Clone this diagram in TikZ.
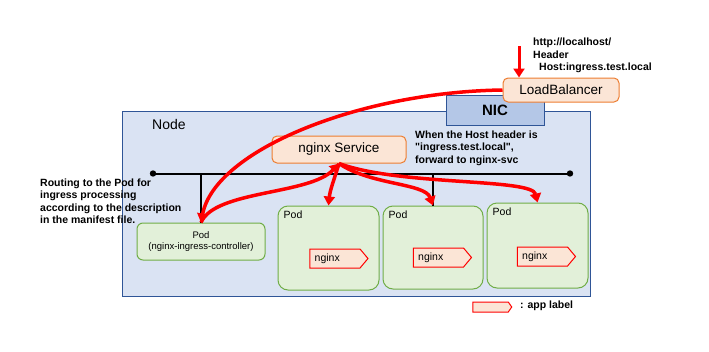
\documentclass[tikz,border=0pt]{standalone}
\usepackage{fontspec}
\setmainfont{Liberation Sans}[Ligatures=TeXOff]
\usetikzlibrary{arrows.meta}
\usetikzlibrary{shapes.symbols}
\usetikzlibrary{positioning}

\definecolor{nodefill}{HTML}{DAE3F3}
\definecolor{nodeline}{HTML}{2F5597}
\definecolor{nicfill}{HTML}{B4C7E7}
\definecolor{svcfill}{HTML}{FBE5D6}
\definecolor{svcline}{HTML}{ED7D31}
\definecolor{podfill}{HTML}{E2F0D9}
\definecolor{podline}{HTML}{70AD47}

\begin{document}
\begin{tikzpicture}[x=1pt, y=-1pt,
      host/.style ={rectangle, draw=nodeline, fill=nodefill, line width=1pt},
      nic/.style ={rectangle, draw=nodeline, fill=nicfill, line width=1pt, minimum width=98pt, minimum height=30pt, font=\fontsize{15}{18}\selectfont\bfseries},
      service/.style ={rectangle, rounded corners=5pt, draw=svcline, fill=svcfill, line width=1pt, font=\fontsize{13.5}{16}\selectfont},
      pod/.style ={rectangle, rounded corners=10pt, draw=podline, fill=podfill, line width=1pt},
      podtitle/.style ={anchor=north west, inner sep=0pt, font=\fontsize{10.5}{12}\selectfont},
      applabel/.style ={signal, signal to=east, signal pointer angle=100, draw=red, fill=svcfill, line width=1pt, inner sep=0pt, minimum width=58pt, minimum height=19pt},
      tagtext/.style ={anchor=west, inner sep=0pt, font=\fontsize{10.5}{12}\selectfont},
      note/.style ={anchor=north west, inner sep=0pt, align=left, font=\fontsize{10.5}{12.4}\selectfont\bfseries},
      route/.style ={draw=red, line width=3.5pt, -{Triangle[length=9pt,width=11pt]}},
      bus/.style ={line width=2pt}
    ]
    \useasboundingbox (0,0) rectangle (709,351);

    % the node with its network card and the load balancer in front
    \node [host, minimum width=468pt, minimum height=185pt] (node) at (356,203.5) {} ;
    \node [anchor=west, inner sep=0pt, font=\fontsize{14}{16}\selectfont] (nodename) at (152,124) {Node} ;
    \node [nic] (nic) at (495,110) {NIC} ;
    \node [service, minimum width=116pt, minimum height=24pt] (lb) at (561,90) {LoadBalancer} ;
    \node [note] (request) at (533,38) {http://localhost/\\Header\\\hspace*{6pt}Host:ingress.test.local} ;

    % service and the bus
    \node [service, minimum width=134pt, minimum height=27pt] (svc) at (339,149.5) {nginx Service} ;
    \node [note] (rule) at (415,130.5) {When the Host header is\\"ingress.test.local",\\forward to nginx-svc} ;
    \coordinate (busL) at (153,173.5) ;
    \coordinate (busR) at (570,173.5) ;
    \draw [bus] (busL) -- (busR) ;
    \fill (busL) circle (3.2pt) ;
    \fill (busR) circle (3.2pt) ;

    % pods
    \node [pod, rounded corners=6pt, minimum width=128pt, minimum height=37pt, align=center, font=\fontsize{9.5}{10.5}\selectfont] (ctrl) at (201,241.5) {Pod\\(nginx-ingress-controller)} ;
    \node [note] (routing) at (40,178.5) {Routing to the Pod for\\ingress processing\\according to the description\\in the manifest file.} ;
    \node [pod, minimum width=101pt, minimum height=84pt] (podA) at (328.5,248) {} ;
    \node [pod, minimum width=100pt, minimum height=83pt] (podB) at (433,247.5) {} ;
    \node [pod, minimum width=101pt, minimum height=85pt] (podC) at (537.5,245.5) {} ;
    \node [podtitle] (titleA) at ([xshift=6pt,yshift=-5pt]podA.north west) {Pod} ;
    \node [podtitle] (titleB) at ([xshift=6pt,yshift=-5pt]podB.north west) {Pod} ;
    \node [podtitle] (titleC) at ([xshift=6pt,yshift=-5pt]podC.north west) {Pod} ;
    \node [applabel] (tagA) at (335,258.5) {} ;
    \node [applabel] (tagB) at (438.5,257.5) {} ;
    \node [applabel] (tagC) at (542.5,256.5) {} ;
    \node [tagtext] (nginxA) at ([xshift=5pt]tagA.west) {nginx} ;
    \node [tagtext] (nginxB) at ([xshift=5pt]tagB.west) {nginx} ;
    \node [tagtext] (nginxC) at ([xshift=5pt]tagC.west) {nginx} ;

    \draw [bus] (ctrl.north) -- (ctrl.north |- busL) ;
    \draw [bus] (podB.north) -- (podB.north |- busL) ;

    % legend
    \node [applabel, minimum width=39pt, minimum height=10pt, signal pointer angle=110] (legendtag) at (490.5,307) {} ;
    \node [note, anchor=west] (legend) at (520,306) {: app label} ;

    % request path
    \coordinate (inurl) at (519,46) ;
    \draw [route, line width=3pt] (inurl) -- (lb.north -| inurl) ;
    \draw [route] (lb.west) .. controls (360,92) and (215,150) .. (ctrl.north) ;
    \draw [route] (ctrl.north) .. controls (215,190) and (310,195) .. (svc.south) ;
    \draw [route] (svc.south) .. controls (334,180) and (330,190) .. (podA.north) ;
    \draw [route] (svc.south) .. controls (370,185) and (425,183) .. (podB.north) ;
    \draw [route] (svc.south) .. controls (400,186) and (532,178) .. (podC.north) ;
  \end{tikzpicture}
\end{document}
